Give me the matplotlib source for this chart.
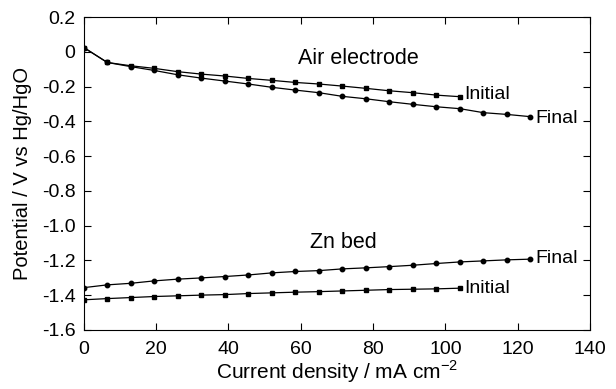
import numpy as np
import matplotlib
matplotlib.use("Agg")
import matplotlib.pyplot as plt

plt.rcParams['font.family'] = ['Liberation Sans', 'DejaVu Sans']
plt.rcParams['mathtext.fontset'] = 'custom'
plt.rcParams['mathtext.rm'] = 'Liberation Sans'

# current density / mA cm-2
x_initial = [0, 6.5, 13, 19.5, 26, 32.5, 39, 45.5, 52, 58.5, 65, 71.5, 78, 84.5, 91, 97.5, 104]
x_final = x_initial + [110.5, 117, 123.5]

# air electrode potential / V vs Hg/HgO
air_initial = [0.025, -0.061, -0.080, -0.095, -0.114, -0.128, -0.139, -0.153, -0.164,
               -0.176, -0.185, -0.197, -0.210, -0.224, -0.235, -0.249, -0.258]
air_final = [0.025, -0.061, -0.085, -0.107, -0.132, -0.151, -0.168, -0.185, -0.204,
             -0.220, -0.235, -0.256, -0.270, -0.287, -0.302, -0.316, -0.327,
             -0.350, -0.360, -0.373]

# zinc bed potential
zn_initial = [-1.427, -1.420, -1.414, -1.408, -1.404, -1.400, -1.397, -1.391, -1.387,
              -1.383, -1.380, -1.376, -1.372, -1.368, -1.366, -1.364, -1.360]
zn_final = [-1.357, -1.341, -1.332, -1.318, -1.308, -1.301, -1.293, -1.284, -1.272,
            -1.264, -1.259, -1.249, -1.243, -1.236, -1.228, -1.218, -1.209,
            -1.203, -1.197, -1.193]

fig = plt.figure(figsize=(6.16, 3.89), dpi=100)
ax = fig.add_axes([0.136, 0.152, 0.822, 0.804])

kw = dict(color='black', linewidth=0.9)
ax.plot(x_initial, air_initial, marker='s', markersize=3.5, **kw)
ax.plot(x_final, air_final, marker='o', markersize=3.2, **kw)
ax.plot(x_initial, zn_initial, marker='s', markersize=3.5, **kw)
ax.plot(x_final, zn_final, marker='o', markersize=3.2, **kw)

# labels next to line ends
fs = 14
ax.text(x_initial[-1] + 1.3, air_initial[-1] + 0.01, 'Initial', va='center', ha='left', fontsize=fs)
ax.text(x_final[-1] + 1.3, air_final[-1] - 0.012, 'Final', va='center', ha='left', fontsize=fs)
ax.text(x_initial[-1] + 1.3, zn_initial[-1] - 0.004, 'Initial', va='center', ha='left', fontsize=fs)
ax.text(x_final[-1] + 1.3, zn_final[-1] + 0.003, 'Final', va='center', ha='left', fontsize=fs)
ax.text(59.2, -0.036, 'Air electrode', fontsize=15.5, ha='left', va='center')
ax.text(62.5, -1.10, 'Zn bed', fontsize=15.5, ha='left', va='center')

ax.set_xlim(0, 140)
ax.set_ylim(-1.6, 0.2)
ax.set_xticks(np.arange(0, 141, 20))
ax.set_yticks(np.arange(-1.6, 0.21, 0.2))
ax.set_yticklabels(['-1.6', '-1.4', '-1.2', '-1.0', '-0.8', '-0.6', '-0.4', '-0.2', '0', '0.2'])
ax.tick_params(direction='in', top=True, right=True, labelsize=14, length=5, width=0.8)
ax.tick_params(axis='x', pad=8)
ax.tick_params(axis='y', pad=6)
for s in ax.spines.values():
    s.set_linewidth(0.8)

ax.set_xlabel('Current density / mA cm$^{\\mathregular{-2}}$', fontsize=15, labelpad=0)
ax.set_ylabel('Potential / V vs Hg/HgO', fontsize=14.5, labelpad=7)

fig.savefig('out.png', dpi=100)
